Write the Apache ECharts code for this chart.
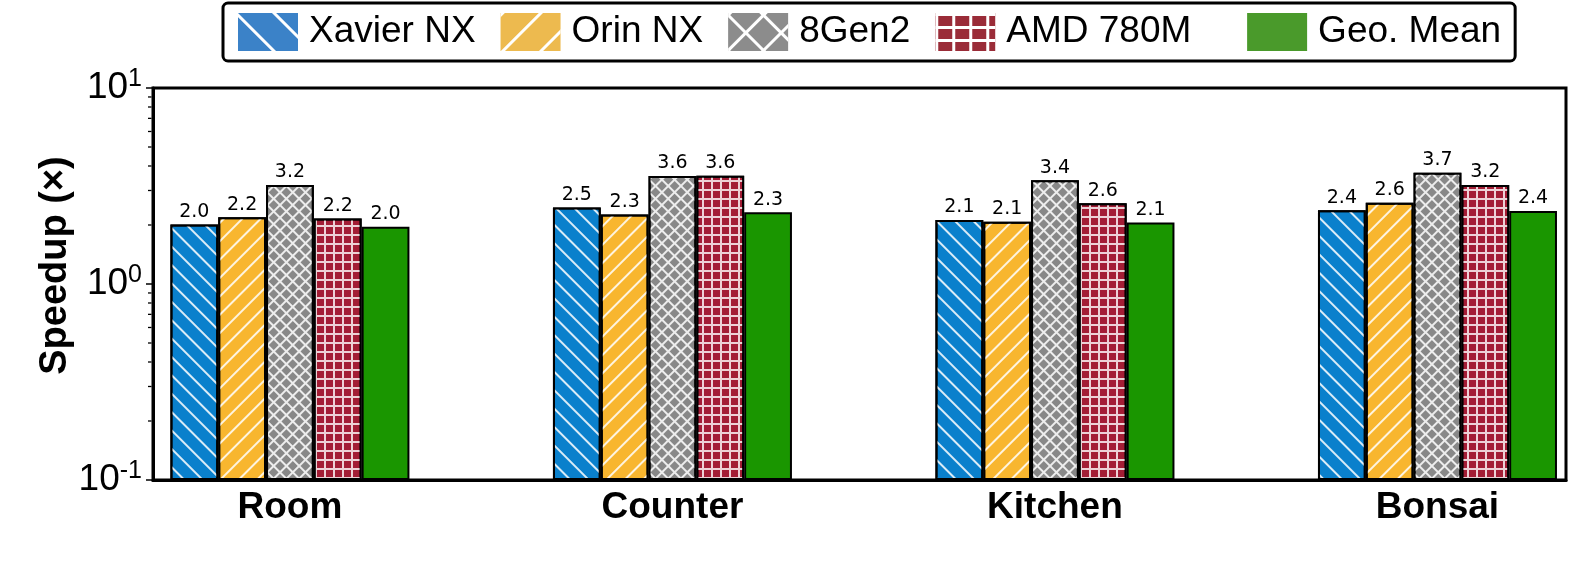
<!DOCTYPE html>
<html>
<head>
<meta charset="utf-8">
<script src="https://cdn.jsdelivr.net/npm/echarts@6/dist/echarts.min.js"></script>
<style>
  html, body { margin: 0; padding: 0; background: #fff; }
  #chart { width: 1578px; height: 562px; }
</style>
</head>
<body>
<div id="chart"></div>
<script>
// scenes on the x axis
var scenes = ['Room', 'Counter', 'Kitchen', 'Bonsai']
// speedup per device
var xavierNX = [2.01, 2.46, 2.12, 2.38]
var orinNX = [2.19, 2.26, 2.08, 2.6]
var gen8 = [3.2, 3.56, 3.38, 3.7]
var amd780m = [2.16, 3.57, 2.58, 3.2]
var geoMean = [1.96, 2.32, 2.06, 2.36]
// y tick values (log axis) and the minor ticks between them
var majorTicks = [0.1, 1, 10]
var minorTicks = [0.2, 0.3, 0.4, 0.5, 0.6, 0.7, 0.8, 0.9, 2, 3, 4, 5, 6, 7, 8, 9]

var X_MIN = -0.358
var X_MAX = 3.336

function pairs(arr) {
  return arr.map(function (v, i) { return [i, v] })
}

// hatch patterns, roughly like the matplotlib ones
var hatchBack = { symbol: 'rect', color: 'rgba(255,255,255,0.85)', dashArrayX: [1, 0], dashArrayY: [1.6, 11], rotation: Math.PI / 4, symbolSize: 1 }
var hatchFwd = { symbol: 'rect', color: 'rgba(255,255,255,0.85)', dashArrayX: [1, 0], dashArrayY: [1.6, 11], rotation: -Math.PI / 4, symbolSize: 1 }
var hatchCross = { symbol: 'rect', color: 'rgba(255,255,255,0.85)', dashArrayX: [[8.5, 0], [1.5, 7]], dashArrayY: [1.5, 0, 7, 0], rotation: Math.PI / 4, symbolSize: 1 }
var hatchGrid = { symbol: 'rect', color: 'rgba(255,255,255,0.8)', dashArrayX: [[8, 0], [1.4, 6.6]], dashArrayY: [1.4, 0, 6.6, 0], rotation: 0, symbolSize: 1 }

// bigger versions for the legend swatches
var lgBack = { symbol: 'rect', color: '#fff', dashArrayX: [1, 0], dashArrayY: [3, 24], rotation: Math.PI / 4, symbolSize: 1 }
var lgFwd = { symbol: 'rect', color: '#fff', dashArrayX: [1, 0], dashArrayY: [3, 24], rotation: -Math.PI / 4, symbolSize: 1 }
var lgCross = { symbol: 'rect', color: '#fff', dashArrayX: [[24, 0], [2.5, 21.5]], dashArrayY: [2.5, 0, 21.5, 0], rotation: Math.PI / 4, symbolSize: 1 }
var lgGrid = { symbol: 'rect', color: '#fff', dashArrayX: [[16, 0], [2.5, 13.5]], dashArrayY: [2.5, 0, 10, 0], rotation: 0, symbolSize: 1 }

function barSeries(name, data, color, decal) {
  return {
    name: name,
    type: 'bar',
    data: pairs(data),
    barWidth: 47.8,
    barGap: '0%',
    itemStyle: { color: color, borderColor: '#000', borderWidth: 2, decal: decal },
    label: {
      show: true,
      position: 'top',
      distance: 3,
      color: '#000',
      fontFamily: 'DejaVu Sans',
      fontSize: 19,
      formatter: function (p) { return p.value[1].toFixed(1) }
    }
  }
}

var chart = echarts.init(document.getElementById('chart'))

var option = {
  backgroundColor: '#fff',
  animation: false,
  grid: {
    left: 153, right: 12, top: 88, bottom: 82,
    show: true, borderColor: '#000', borderWidth: 3, backgroundColor: 'transparent'
  },
  legend: {
    left: 223,
    top: 3,
    padding: [10, 14, 10, 15],
    icon: 'rect',
    itemWidth: 60,
    itemHeight: 38,
    itemGap: 25,
    borderColor: '#000',
    borderWidth: 3,
    borderRadius: 5,
    textStyle: { fontFamily: 'Liberation Sans', fontSize: 37, color: '#000', padding: [0, 0, 0, 6] },
    formatter: function (name) {
      // the reference leaves a wider gap after this entry
      return name === 'AMD 780M' ? name + '\u00a0\u00a0\u00a0' : name
    },
    itemStyle: { borderWidth: 0 },
    data: [
      { name: 'Xavier NX', itemStyle: { color: '#3B82C8', decal: lgBack } },
      { name: 'Orin NX', itemStyle: { color: '#EDBA4F', decal: lgFwd } },
      { name: '8Gen2', itemStyle: { color: '#8C8C8C', decal: lgCross } },
      { name: 'AMD 780M', itemStyle: { color: '#9A2C38', decal: lgGrid } },
      { name: 'Geo. Mean', itemStyle: { color: '#4A9A2B' } }
    ]
  },
  xAxis: {
    type: 'value',
    min: X_MIN,
    max: X_MAX,
    splitLine: { show: false },
    axisLine: { show: true, onZero: false, lineStyle: { color: '#000', width: 3 } },
    axisTick: { show: false },
    axisLabel: {
      customValues: [0, 1, 2, 3],
      formatter: function (v) { return scenes[Math.round(v)] },
      fontFamily: 'Liberation Sans',
      fontWeight: 'bold',
      fontSize: 37,
      color: '#000',
      margin: 9
    }
  },
  yAxis: {
    type: 'log',
    logBase: 10,
    min: 0.1,
    max: 10,
    startValue: 0.1,
    name: 'Speedup (×)',
    nameLocation: 'middle',
    nameGap: 78,
    nameMoveOverlap: false,
    nameTextStyle: { fontFamily: 'Liberation Sans', fontWeight: 'bold', fontSize: 38, color: '#000', padding: [0, 0, 0, 37] },
    splitLine: { show: false },
    axisLine: { show: true, onZero: false, lineStyle: { color: '#000', width: 3 } },
    axisTick: { show: true, inside: false, length: 7, lineStyle: { color: '#000', width: 1.5 }, customValues: majorTicks },
    axisLabel: {
      customValues: majorTicks,
      margin: 11,
      formatter: function (v) {
        var e = Math.round(Math.log10(v))
        return '{b|10}{s|' + e + '}'
      },
      rich: {
        b: { fontFamily: 'Liberation Sans', fontSize: 37, color: '#000', lineHeight: 42 },
        s: { fontFamily: 'Liberation Sans', fontSize: 25, color: '#000', verticalAlign: 'top', lineHeight: 42, padding: [0, 0, 16, 0] }
      }
    }
  },
  series: [
    barSeries('Xavier NX', xavierNX, '#0A80CC', hatchBack),
    barSeries('Orin NX', orinNX, '#F8B62F', hatchFwd),
    barSeries('8Gen2', gen8, '#888888', hatchCross),
    barSeries('AMD 780M', amd780m, '#A31D35', hatchGrid),
    barSeries('Geo. Mean', geoMean, '#1A9600', null),
    {
      // minor ticks of the log axis
      type: 'custom',
      clip: false,
      silent: true,
      data: minorTicks.map(function (v) { return [X_MIN, v] }),
      renderItem: function (params, api) {
        var p = api.coord([api.value(0), api.value(1)])
        return {
          type: 'line',
          shape: { x1: p[0] - 5, y1: p[1], x2: p[0] - 1.5, y2: p[1] },
          style: { stroke: '#000', lineWidth: 1.3 }
        }
      }
    }
  ]
}

chart.setOption(option)
</script>
</body>
</html>
